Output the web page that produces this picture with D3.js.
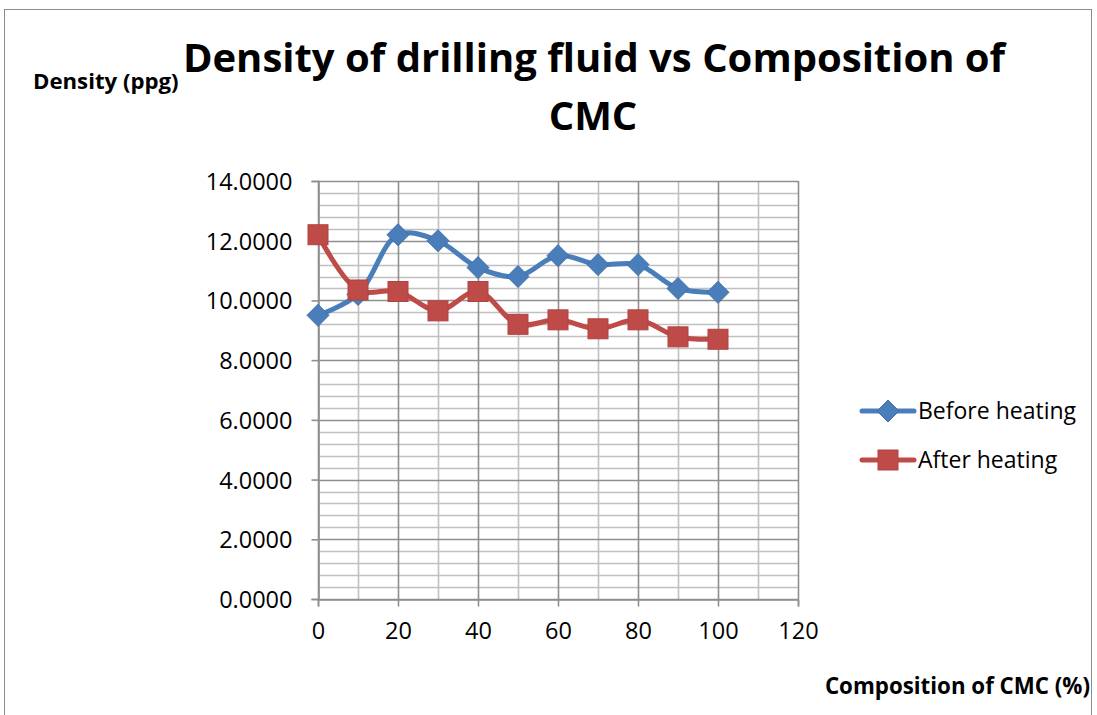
<!DOCTYPE html>
<html>
<head>
<meta charset="utf-8">
<script src="https://cdn.jsdelivr.net/npm/d3@7"></script>
<style>
  html, body { margin: 0; padding: 0; background: #fff; }
  svg { display: block; }
  text { font-family: "Open Sans", "Liberation Sans", sans-serif; fill: #000; }
</style>
</head>
<body>
<svg id="chart" width="1097" height="715"></svg>
<script>
// CMC composition (%) and measured density (ppg)
const composition = [0, 10, 20, 30, 40, 50, 60, 70, 80, 90, 100];
const beforeHeating = [9.5, 10.2, 12.2, 12.0, 11.1, 10.8, 11.5, 11.2, 11.2, 10.4, 10.27];
const afterHeating = [12.2, 10.35, 10.3, 9.65, 10.3, 9.2, 9.35, 9.05, 9.35, 8.78, 8.7];
const xTicks = [0, 20, 40, 60, 80, 100, 120];
const yTicks = [0, 2, 4, 6, 8, 10, 12, 14];
const seriesNames = ["Before heating", "After heating"];

const svg = d3.select("#chart");

// chart frame
svg.append("rect").attr("x", 4.5).attr("y", 9.5).attr("width", 1087).attr("height", 720)
  .attr("fill", "#fff").attr("stroke", "#8c8c8c").attr("stroke-width", 1);

const plot = { left: 318, right: 798, top: 181, bottom: 599 };
const x = d3.scaleLinear().domain([0, 120]).range([plot.left, plot.right]);
const y = d3.scaleLinear().domain([0, 14]).range([plot.bottom, plot.top]);

// minor gridlines
const g = svg.append("g");
const yMinor = d3.range(0, 14.001, 0.4).filter(v => Math.abs(v / 2 - Math.round(v / 2)) > 1e-6);
g.selectAll(".hmin").data(yMinor).join("line")
  .attr("x1", plot.left).attr("x2", plot.right)
  .attr("y1", d => Math.round(y(d)) + 0.5).attr("y2", d => Math.round(y(d)) + 0.5)
  .attr("stroke", "#c0c0c0").attr("stroke-width", 1.6);
const xMinor = d3.range(10, 120, 20);
g.selectAll(".vmin").data(xMinor).join("line")
  .attr("y1", plot.top).attr("y2", plot.bottom)
  .attr("x1", d => Math.round(x(d)) + 0.5).attr("x2", d => Math.round(x(d)) + 0.5)
  .attr("stroke", "#c0c0c0").attr("stroke-width", 1.6);
// major gridlines
g.selectAll(".hmaj").data(yTicks).join("line")
  .attr("x1", plot.left).attr("x2", plot.right)
  .attr("y1", d => Math.round(y(d)) + 0.5).attr("y2", d => Math.round(y(d)) + 0.5)
  .attr("stroke", "#8f8f8f").attr("stroke-width", 1.6);
g.selectAll(".vmaj").data(xTicks).join("line")
  .attr("y1", plot.top).attr("y2", plot.bottom)
  .attr("x1", d => Math.round(x(d)) + 0.5).attr("x2", d => Math.round(x(d)) + 0.5)
  .attr("stroke", "#8f8f8f").attr("stroke-width", 1.6);

// axes
const yAxis = svg.append("g").attr("transform", `translate(${plot.left + 0.5},0)`)
  .call(d3.axisLeft(y).tickValues(yTicks).tickSize(7).tickPadding(19).tickFormat(d3.format(".4f")));
const xAxis = svg.append("g").attr("transform", `translate(0,${plot.bottom + 0.5})`)
  .call(d3.axisBottom(x).tickValues(xTicks).tickSize(7).tickFormat(d3.format("d")));
[yAxis, xAxis].forEach(a => {
  a.select(".domain").attr("stroke", "#8f8f8f").attr("stroke-width", 1.6);
  a.selectAll(".tick line").attr("stroke", "#8f8f8f").attr("stroke-width", 1.6);
  a.selectAll("text").attr("font-size", 23.5).attr("font-family", "'Open Sans', sans-serif").attr("fill", "#000");
});
yAxis.selectAll("text").attr("dy", "0.36em");
xAxis.selectAll("text").attr("y", 39).attr("dy", 0);

// series
const colors = ["#4a7ebb", "#be4b48"];
const series = [beforeHeating, afterHeating].map((vals, i) =>
  composition.map((c, j) => ({ x: c, y: vals[j], s: i })));
const line = d3.line().x(d => x(d.x)).y(d => y(d.y)).curve(d3.curveCatmullRom.alpha(0.5));

series.forEach((pts, i) => {
  svg.append("path").datum(pts).attr("d", line)
    .attr("fill", "none").attr("stroke", colors[i]).attr("stroke-width", 5)
    .attr("stroke-linejoin", "round").attr("stroke-linecap", "round");
});

function marker(sel, i) {
  if (i === 0) {
    sel.append("path").attr("d", "M0,-11L11,0L0,11L-11,0Z")
      .attr("fill", colors[0]).attr("stroke", "#3f6fa8").attr("stroke-width", 1);
  } else {
    sel.append("rect").attr("x", -10).attr("y", -10).attr("width", 20).attr("height", 20)
      .attr("fill", colors[1]).attr("stroke", "#b04240").attr("stroke-width", 1);
  }
}
series.forEach((pts, i) => {
  svg.append("g").selectAll("g").data(pts).join("g")
    .attr("transform", d => `translate(${x(d.x)},${y(d.y)})`)
    .each(function () { marker(d3.select(this), i); });
});

// legend
const legY = [411, 460];
seriesNames.forEach((name, i) => {
  const lg = svg.append("g").attr("transform", `translate(0,${legY[i]})`);
  lg.append("line").attr("x1", 862).attr("x2", 914).attr("y1", 0).attr("y2", 0)
    .attr("stroke", colors[i]).attr("stroke-width", 5).attr("stroke-linecap", "round");
  const m = lg.append("g").attr("transform", "translate(888,0)");
  marker(m, i);
  lg.append("text").attr("x", 918).attr("y", 0).attr("dy", "0.36em")
    .attr("font-size", 23).text(name);
});

// titles
svg.append("text").attr("x", 594).attr("y", 72).attr("text-anchor", "middle")
  .attr("font-size", 40).attr("font-weight", "bold")
  .text("Density of drilling fluid vs Composition of");
svg.append("text").attr("x", 593).attr("y", 130).attr("text-anchor", "middle")
  .attr("font-size", 40).attr("font-weight", "bold").text("CMC");
svg.append("text").attr("x", 33).attr("y", 89).attr("font-size", 22.2).attr("font-weight", "bold")
  .text("Density (ppg)");
svg.append("text").attr("x", 1090).attr("y", 694).attr("text-anchor", "end")
  .attr("font-size", 22.3).attr("font-weight", "bold").text("Composition of CMC (%)");
</script>
</body>
</html>
